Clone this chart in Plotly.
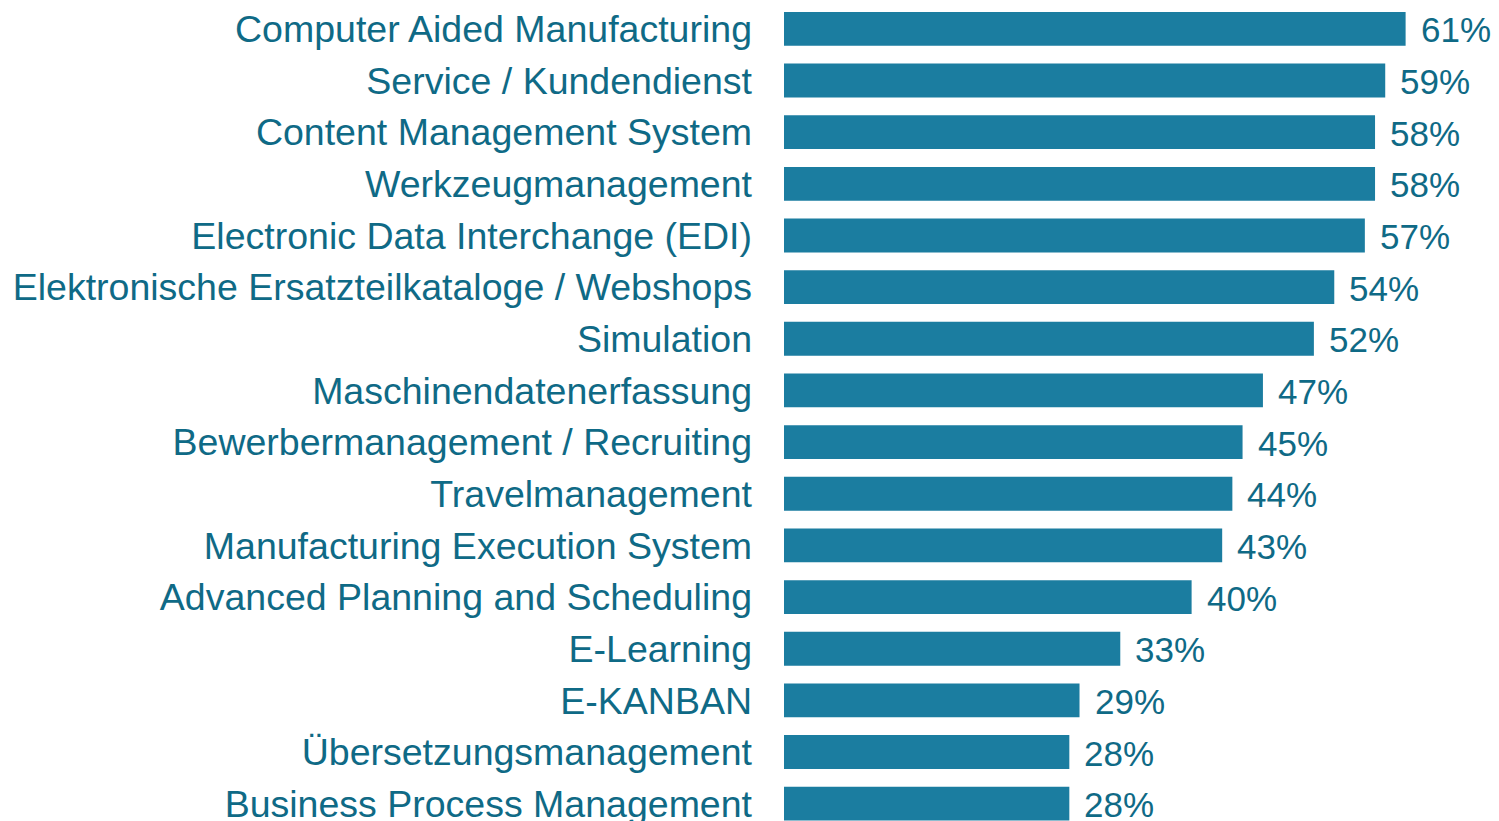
import plotly.graph_objects as go

categories = [
    "Computer Aided Manufacturing",
    "Service / Kundendienst",
    "Content Management System",
    "Werkzeugmanagement",
    "Electronic Data Interchange (EDI)",
    "Elektronische Ersatzteilkataloge / Webshops",
    "Simulation",
    "Maschinendatenerfassung",
    "Bewerbermanagement / Recruiting",
    "Travelmanagement",
    "Manufacturing Execution System",
    "Advanced Planning and Scheduling",
    "E-Learning",
    "E-KANBAN",
    "Übersetzungsmanagement",
    "Business Process Management",
]
values = [61, 59, 58, 58, 57, 54, 52, 47, 45, 44, 43, 40, 33, 29, 28, 28]

BAR = "#1b7da0"
TEXT = "#0f6a86"
FONT = "Arial, Liberation Sans, sans-serif"

fig = go.Figure(
    go.Bar(
        x=values,
        y=categories,
        orientation="h",
        width=0.655,
        marker=dict(color=BAR, line=dict(width=0)),
        hoverinfo="skip",
    )
)

# Prozentwerte rechts neben den Balken
for cat, v in zip(categories, values):
    fig.add_annotation(
        x=v, y=cat, text=f"{v}%", showarrow=False,
        xanchor="left", xshift=13, yshift=-1,
        font=dict(size=35, color=TEXT, family=FONT),
    )

fig.update_layout(
    width=1499,
    height=821,
    margin=dict(l=776, r=0, t=0, b=0),
    paper_bgcolor="white",
    plot_bgcolor="white",
    showlegend=False,
    xaxis=dict(range=[0, 70.95], visible=False, fixedrange=True),
    yaxis=dict(
        type="category",
        range=[15.49, -0.4036],
        showgrid=False,
        zeroline=False,
        showline=False,
        ticks="",
        ticklabelstandoff=31,
        tickfont=dict(size=37.5, color=TEXT, family=FONT),
        automargin=False,
    ),
)

fig.write_html("out.html")
